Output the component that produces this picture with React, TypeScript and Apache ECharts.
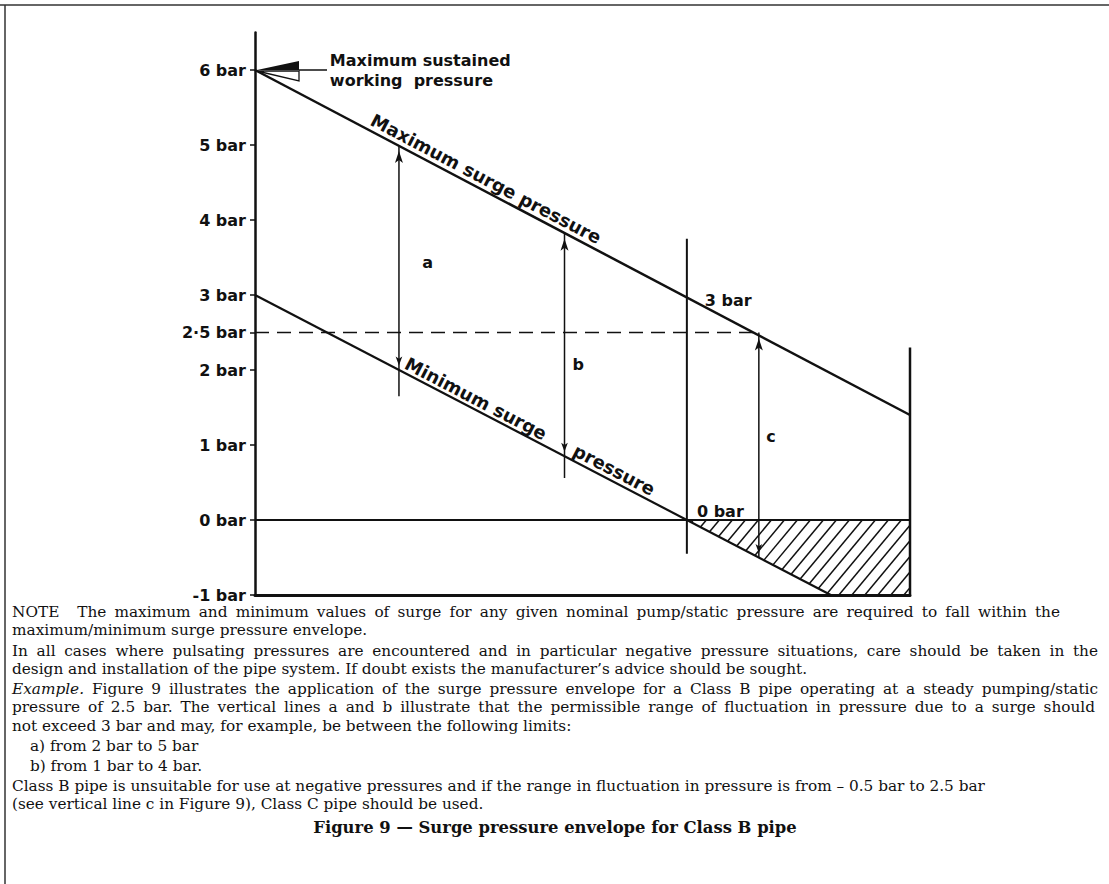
import React, { useEffect, useRef } from 'react';
import * as echarts from 'echarts';

// ---- data ----
const yTickValues = [-1, 0, 1, 2, 2.5, 3, 4, 5, 6];
const xMax = 9.1;
const maxSurgeLine = [[0, 6], [9.1, 1.4]];
const minSurgeLine = [[0, 3], [8, -1]];
const zeroPressureLine = [[0, 0], [9.1, 0]];
const staticPressureLine = [[0, 2.5], [7, 2.5]];
const guideNames = ['a', 'b', 'zero', 'c', 'end'];
const guideX = [2, 4.3, 6, 7, 9.1];
const guideBottom = [1.65, 0.56, -0.45, -0.5, -1];
const guideTop = [5, 3.83, 3.75, 2.5, 2.3];
const upperArrows = [[2, 5], [4.3, 3.83], [7, 2.5]];
const lowerArrows = [[2, 2], [4.3, 0.85], [7, -0.5]];
const negativeRegion = [[6, 0], [9.1, 0], [9.1, -1], [8, -1]];
const workingPressurePoint = [0, 6];
const labelTexts = ['a', 'b', 'c', '3 bar', '0 bar', 'Negative\npressure', 'Maximum sustained\nworking  pressure'];
const labelPoints = [[2.4, 3.43], [4.49, 2.08], [7.17, 1.11], [6.25, 2.93], [6.14, 0.12], [9.17, -0.53], [1.04, 6.0]];
const curveLabelTexts = ['Maximum surge pressure', 'Minimum surge', 'pressure'];
const curveLabelPoints = [[3.21, 4.55], [3.07, 1.62], [4.99, 0.67]];

const noteLines = [
  'NOTE   The maximum and minimum values of surge for any given nominal pump/static pressure are required to fall within the',
  'maximum/minimum surge pressure envelope.',
  'In all cases where pulsating pressures are encountered and in particular negative pressure situations, care should be taken in the',
  'design and installation of the pipe system. If doubt exists the manufacturer\u2019s advice should be sought.',
  'Example. Figure 9 illustrates the application of the surge pressure envelope for a Class B pipe operating at a steady pumping/static',
  'pressure of 2.5 bar. The vertical lines a and b illustrate that the permissible range of fluctuation in pressure due to a surge should',
  'not exceed 3 bar and may, for example, be between the following limits:',
  'a) from 2 bar to 5 bar',
  'b) from 1 bar to 4 bar.',
  'Class B pipe is unsuitable for use at negative pressures and if the range in fluctuation in pressure is from \u2013 0.5 bar to 2.5 bar',
  '(see vertical line c in Figure 9), Class C pipe should be used.',
];
const italicWords = ['Example.'];
const captionText = 'Figure 9 \u2014 Surge pressure envelope for Class B pipe';

// ---- layout / style ----
const INK = '#111';
const SANS = 'DejaVu Sans';
const SERIF = 'DejaVu Serif';
const NOTE_SIZE = 15.3;
const noteY = [612, 630, 651, 669, 689, 707, 726, 746, 766, 786, 804];
const noteX = [12, 12, 12, 12, 12, 12, 12, 30, 30, 12, 12];
const noteRight: (number | null)[] = [1060, null, 1098, null, 1098, 1095, null, null, null, null, null];
const guideWidths: Record<string, number> = { a: 1.5, b: 1.5, zero: 2, c: 1.5, end: 2.5 };

function clipConvex(poly: number[][], s: number, c: number) {
  const pts: number[][] = [];
  const n = poly.length;
  for (let i = 0; i < n; i++) {
    const a = poly[i];
    const b = poly[(i + 1) % n];
    const fa = s * a[0] + a[1] - c;
    const fb = s * b[0] + b[1] - c;
    if (fa === 0) pts.push(a);
    if (fa * fb < 0) {
      const t = fa / (fa - fb);
      pts.push([a[0] + t * (b[0] - a[0]), a[1] + t * (b[1] - a[1])]);
    }
  }
  if (pts.length < 2) return null;
  pts.sort((p, q) => p[0] - q[0]);
  return [pts[0], pts[pts.length - 1]];
}

function lineSeries(data: number[][], width: number, extra: any = {}) {
  return {
    type: 'line',
    data,
    symbol: 'none',
    silent: true,
    lineStyle: { color: INK, width, ...extra },
    z: 3,
  };
}

function buildNoteGraphics(): any[] {
  const ctx = document.createElement('canvas').getContext('2d')!;
  const fontOf = (italic: boolean) => `${italic ? 'italic ' : ''}${NOTE_SIZE}px "${SERIF}"`;
  const measure = (t: string, italic: boolean) => {
    ctx.font = fontOf(italic);
    return ctx.measureText(t).width;
  };
  const out: any[] = [];
  noteLines.forEach((line, i) => {
    const tokens = line.match(/\S+ */g) || [];
    const words = tokens.map((tk) => {
      const text = tk.trimEnd();
      const italic = italicWords.includes(text);
      return { text, italic, w: measure(text, italic), trail: tk.length - text.length };
    });
    const spaceW = measure(' ', false);
    const natural = words.reduce((s, w, k) => s + w.w + (k < words.length - 1 ? w.trail * spaceW : 0), 0);
    const target = noteRight[i];
    const extra = target != null && words.length > 1 ? Math.max(0, (target - noteX[i] - natural) / (words.length - 1)) : 0;
    let x = noteX[i];
    words.forEach((w) => {
      out.push({
        type: 'text',
        x,
        y: noteY[i],
        style: {
          text: w.text,
          fill: INK,
          fontFamily: SERIF,
          fontSize: NOTE_SIZE,
          fontStyle: w.italic ? 'italic' : 'normal',
          verticalAlign: 'middle',
        },
      });
      x += w.w + w.trail * spaceW + extra;
    });
  });
  return out;
}

export default function App() {
  const ref = useRef<HTMLDivElement>(null);
  useEffect(() => {
    document.body.style.margin = '0';
    const chart = echarts.init(ref.current!, null, { renderer: 'svg' });

    const series: any[] = [];
    series.push(lineSeries(maxSurgeLine, 2.5));
    series.push(lineSeries(minSurgeLine, 2.2));
    series.push(lineSeries(zeroPressureLine, 2.2));
    series.push(lineSeries(staticPressureLine, 1.6, { type: [14, 8] }));
    guideNames.forEach((name, i) => {
      series.push(lineSeries([[guideX[i], guideBottom[i]], [guideX[i], guideTop[i]]], guideWidths[name]));
    });
    series.push({
      type: 'scatter',
      data: upperArrows,
      symbol: 'arrow',
      symbolSize: [6, 12],
      symbolOffset: [0, '50%'],
      itemStyle: { color: INK, opacity: 1 },
      silent: true,
      z: 4,
    });
    series.push({
      type: 'scatter',
      data: lowerArrows,
      symbol: 'arrow',
      symbolSize: [5, 9],
      symbolRotate: 180,
      symbolOffset: [0, '-50%'],
      itemStyle: { color: INK, opacity: 1 },
      silent: true,
      z: 4,
    });
    // hatching of negative pressure region
    series.push({
      type: 'custom',
      data: [negativeRegion[0]],
      silent: true,
      clip: false,
      z: 2,
      renderItem: (_p: any, api: any) => {
        const poly = negativeRegion.map((p) => api.coord(p));
        const s = 1.2;
        const vals = poly.map((p) => s * p[0] + p[1]);
        const cMin = Math.min(...vals);
        const cMax = Math.max(...vals);
        const step = 13 * s;
        const children: any[] = [];
        for (let c = cMin + step / 2; c < cMax; c += step) {
          const seg = clipConvex(poly, s, c);
          if (!seg) continue;
          children.push({
            type: 'line',
            shape: { x1: seg[0][0], y1: seg[0][1], x2: seg[1][0], y2: seg[1][1] },
            style: { stroke: INK, lineWidth: 1.5 },
          });
        }
        return { type: 'group', children };
      },
    });
    // pointer flag for maximum sustained working pressure
    series.push({
      type: 'custom',
      data: [workingPressurePoint],
      silent: true,
      clip: false,
      z: 5,
      renderItem: (_p: any, api: any) => {
        const [x, y] = api.coord([api.value(0), api.value(1)]);
        return {
          type: 'group',
          children: [
            { type: 'polygon', shape: { points: [[x + 2, y], [x + 44, y - 9], [x + 44, y]] }, style: { fill: INK } },
            { type: 'polygon', shape: { points: [[x + 2, y + 1], [x + 44, y + 1], [x + 44, y + 11]] }, style: { fill: '#fff', stroke: INK, lineWidth: 1.3 } },
            { type: 'line', shape: { x1: x + 44, y1: y, x2: x + 72, y2: y }, style: { stroke: INK, lineWidth: 1.5 } },
          ],
        };
      },
    });
    // plain labels
    series.push({
      type: 'scatter',
      symbolSize: 0,
      silent: true,
      z: 6,
      itemStyle: { opacity: 1 },
      data: labelTexts.map((t, i) => {
        const centered = t.length === 1;
        return {
          value: labelPoints[i],
          label: {
            show: true,
            formatter: t,
            position: centered ? 'inside' : 'right',
            distance: 0,
            align: centered ? 'center' : 'left',
            fontFamily: SANS,
            fontWeight: 'bold',
            fontSize: 16,
            lineHeight: 20,
            color: INK,
          },
        };
      }),
    });
    // labels along the surge curves
    series.push({
      type: 'scatter',
      symbolSize: 0,
      silent: true,
      z: 6,
      itemStyle: { opacity: 1 },
      data: curveLabelTexts.map((t, i) => ({
        value: curveLabelPoints[i],
        label: {
          show: true,
          formatter: t,
          position: 'inside',
          rotate: i === 0 ? -27.8 : -27.5,
          fontFamily: SANS,
          fontWeight: 'bold',
          fontSize: 18,
          color: INK,
        },
      })),
    });

    const graphic: any[] = [
      { type: 'line', shape: { x1: 5, y1: 5, x2: 5, y2: 884 }, style: { stroke: '#333', lineWidth: 1.5 } },
      { type: 'line', shape: { x1: 0, y1: 5, x2: 1109, y2: 5 }, style: { stroke: '#333', lineWidth: 1.5 } },
      ...buildNoteGraphics(),
      {
        type: 'text',
        x: 555,
        y: 827,
        style: {
          text: captionText,
          fill: INK,
          fontFamily: SERIF,
          fontWeight: 'bold',
          fontSize: 16.4,
          align: 'center',
          verticalAlign: 'middle',
        },
      },
    ];

    chart.setOption({
      animation: false,
      backgroundColor: '#fff',
      grid: { left: 255, right: 199, top: 32.5, bottom: 289 },
      xAxis: {
        type: 'value',
        min: 0,
        max: xMax,
        axisLine: { show: true, onZero: false, lineStyle: { color: INK, width: 3 } },
        axisTick: { show: false },
        axisLabel: { show: false },
        splitLine: { show: false },
      },
      yAxis: {
        type: 'value',
        min: -1,
        max: 6.5,
        interval: 0.5,
        axisLine: { show: true, lineStyle: { color: INK, width: 2.5 } },
        axisTick: { show: true, length: 5, customValues: yTickValues, lineStyle: { color: INK, width: 1.5 } },
        axisLabel: {
          customValues: yTickValues,
          formatter: (v: number) => (v === 2.5 ? '2\u00b75 bar' : `${v} bar`),
          fontFamily: SANS,
          fontWeight: 'bold',
          fontSize: 16,
          color: INK,
          margin: 9,
        },
        splitLine: { show: false },
      },
      series,
      graphic,
    });
    return () => chart.dispose();
  }, []);
  return <div ref={ref} style={{ width: 1109, height: 884 }} />;
}
